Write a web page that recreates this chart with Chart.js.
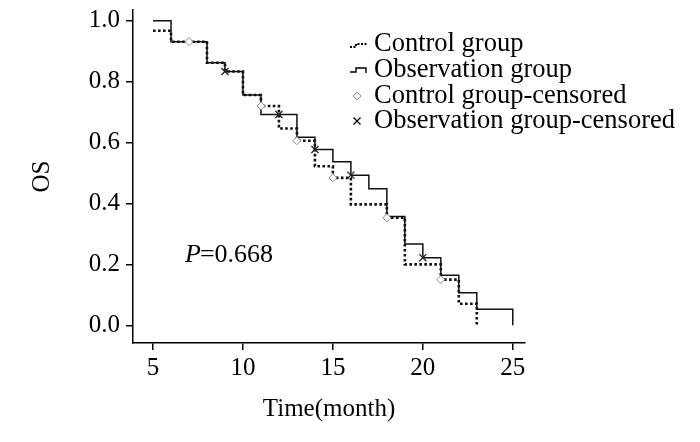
<!DOCTYPE html>
<html>
<head>
<meta charset="utf-8">
<script src="https://cdn.jsdelivr.net/npm/chart.js@4.4.1/dist/chart.umd.min.js"></script>
<style>
  body { margin: 0; background: #fff; }
  #chart { display: block; }
</style>
</head>
<body>
<canvas id="chart" width="700" height="442"></canvas>
<script>
// Kaplan-Meier steps
const obsTimes = [5, 6, 8, 9, 10, 11, 13, 14, 15, 16, 17, 18, 19, 20, 21, 22, 23, 25];
const obsSurvival = [1.0, 0.931, 0.862, 0.833, 0.756, 0.692, 0.617, 0.577, 0.537, 0.493, 0.448, 0.357, 0.267, 0.222, 0.164, 0.107, 0.053, 0.0];
const ctrlTimes = [5, 6, 8, 9, 10, 11, 12, 13, 14, 15, 16, 18, 19, 21, 22, 23];
const ctrlSurvival = [0.967, 0.931, 0.862, 0.833, 0.756, 0.72, 0.646, 0.606, 0.522, 0.484, 0.397, 0.353, 0.2, 0.15, 0.071, 0.0];

// censored marks
const ctrlCensTimes = [7, 11, 13, 15, 18, 21];
const ctrlCensSurvival = [0.931, 0.72, 0.606, 0.484, 0.353, 0.15];
const obsCensTimes = [9, 12, 14, 16, 20];
const obsCensSurvival = [0.833, 0.692, 0.577, 0.493, 0.222];

const xTicks = [5, 10, 15, 20, 25];
const yTicks = [0, 0.2, 0.4, 0.6, 0.8, 1.0];
const legendLabels = ['Control group', 'Observation group', 'Control group-censored', 'Observation group-censored'];
const pText = '=0.668';

const FONT = '"Liberation Serif", "Times New Roman", serif';

const toPoints = (xs, ys) => xs.map((x, i) => ({ x: x, y: ys[i] }));

// legend drawn inside the plot, plus the P value
const annotations = {
    id: 'annotations',
    afterDraw(chart) {
        const ctx = chart.ctx;
        ctx.save();
        ctx.fillStyle = '#000';
        ctx.font = '26.5px ' + FONT;
        ctx.textBaseline = 'middle';
        const rows = [44, 70, 96, 121];
        legendLabels.forEach((label, i) => {
            ctx.fillText(label, 374, rows[i]);
        });

        // icon 1: dotted step
        let c = rows[0];
        ctx.strokeStyle = '#000';
        ctx.lineWidth = 2.2;
        ctx.setLineDash([2, 1.5]);
        ctx.beginPath();
        ctx.moveTo(350, c + 3);
        ctx.lineTo(356, c + 3);
        ctx.lineTo(356, c);
        ctx.lineTo(368, c);
        ctx.stroke();

        // icon 2: solid step
        c = rows[1];
        ctx.setLineDash([]);
        ctx.lineWidth = 1.4;
        ctx.beginPath();
        ctx.moveTo(350, c + 2);
        ctx.lineTo(356, c + 2);
        ctx.lineTo(356, c - 2);
        ctx.lineTo(366, c - 2);
        ctx.lineTo(366, c + 3);
        ctx.stroke();

        // icon 3: diamond
        c = rows[2];
        ctx.strokeStyle = '#8a8a8a';
        ctx.lineWidth = 1;
        ctx.beginPath();
        ctx.moveTo(357, c - 4);
        ctx.lineTo(361, c);
        ctx.lineTo(357, c + 4);
        ctx.lineTo(353, c);
        ctx.closePath();
        ctx.stroke();

        // icon 4: cross
        c = rows[3];
        ctx.strokeStyle = '#000';
        ctx.lineWidth = 1.2;
        ctx.beginPath();
        ctx.moveTo(353.5, c - 3.5);
        ctx.lineTo(360.5, c + 3.5);
        ctx.moveTo(360.5, c - 3.5);
        ctx.lineTo(353.5, c + 3.5);
        ctx.stroke();

        // P value
        ctx.fillStyle = '#000';
        ctx.textBaseline = 'alphabetic';
        ctx.font = 'italic 26px ' + FONT;
        ctx.fillText('P', 185, 262);
        const w = ctx.measureText('P').width;
        ctx.font = '26px ' + FONT;
        ctx.fillText(pText, 185 + w - 1, 262);
        ctx.restore();
    }
};

new Chart(document.getElementById('chart'), {
    type: 'scatter',
    data: {
        datasets: [
            {
                label: 'Observation group-censored',
                data: toPoints(obsCensTimes, obsCensSurvival),
                pointStyle: 'crossRot',
                pointRadius: 5,
                borderColor: '#222',
                borderWidth: 1.3,
            },
            {
                label: 'Control group-censored',
                data: toPoints(ctrlCensTimes, ctrlCensSurvival),
                pointStyle: 'rectRot',
                pointRadius: 4,
                borderColor: '#8a8a8a',
                backgroundColor: '#fff',
                borderWidth: 1,
            },
            {
                label: 'Observation group',
                data: toPoints(obsTimes, obsSurvival),
                showLine: true,
                stepped: true,
                borderColor: '#111',
                borderWidth: 1.5,
                pointRadius: 0,
            },
            {
                label: 'Control group',
                data: toPoints(ctrlTimes, ctrlSurvival),
                showLine: true,
                stepped: true,
                borderColor: '#111',
                borderWidth: 2.6,
                borderDash: [2.6, 2.4],
                pointRadius: 0,
            },
        ],
    },
    options: {
        responsive: false,
        animation: false,
        layout: {
            padding: { left: 0, right: 175, top: 10, bottom: 0 },
        },
        scales: {
            x: {
                type: 'linear',
                min: 3.887,
                max: 25.68,
                afterBuildTicks: (axis) => { axis.ticks = xTicks.map(v => ({ value: v })); },
                afterFit: (axis) => { axis.height = 99; axis.paddingLeft = 0; axis.paddingRight = 0; },
                grid: { drawOnChartArea: false, drawTicks: true, tickLength: 7, color: '#000', lineWidth: 1.5 },
                border: { display: true, color: '#000', width: 1.5 },
                ticks: { color: '#000', padding: 3, font: { family: FONT, size: 25 }, maxRotation: 0 },
                title: {
                    display: true,
                    text: 'Time(month)',
                    color: '#000',
                    font: { family: FONT, size: 25 },
                    padding: { top: 0, bottom: 18 },
                },
            },
            y: {
                min: -0.058,
                max: 1.035,
                afterBuildTicks: (axis) => { axis.ticks = yTicks.map(v => ({ value: v })); },
                afterFit: (axis) => { axis.width = 133; axis.paddingTop = 0; axis.paddingBottom = 0; },
                grid: { drawOnChartArea: false, drawTicks: true, tickLength: 7, color: '#000', lineWidth: 1.5 },
                border: { display: true, color: '#000', width: 1.5 },
                ticks: {
                    color: '#000',
                    padding: 6,
                    font: { family: FONT, size: 25 },
                    callback: (v) => Number(v).toFixed(1),
                },
                title: {
                    display: true,
                    text: 'OS',
                    color: '#000',
                    font: { family: FONT, size: 25 },
                    padding: { top: 27, bottom: 0 },
                },
            },
        },
        plugins: {
            legend: { display: false },
            tooltip: { enabled: false },
        },
    },
    plugins: [annotations],
});
</script>
</body>
</html>
